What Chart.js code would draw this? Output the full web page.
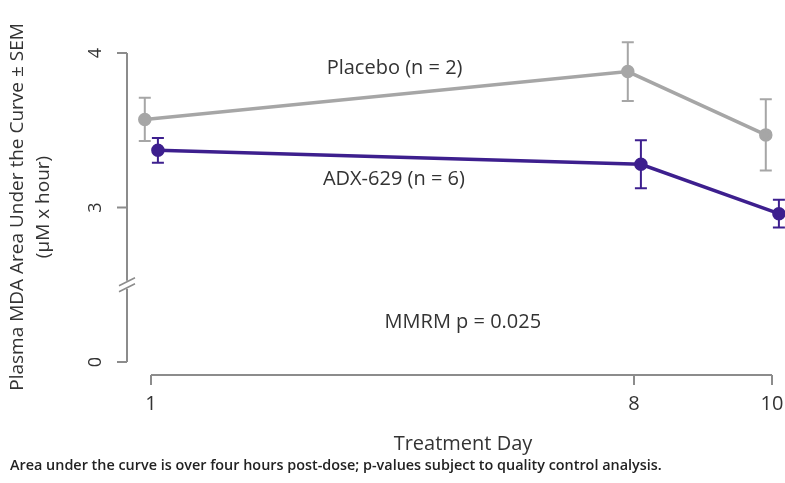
<!DOCTYPE html>
<html>
<head>
<meta charset="utf-8">
<script src="https://cdn.jsdelivr.net/npm/chart.js@4.4.1/dist/chart.umd.min.js"></script>
<style>
    html, body { margin: 0; padding: 0; background: #fff; }
    #wrap { width: 785px; height: 483px; position: relative; }
</style>
</head>
<body>
<div id="wrap"><canvas id="mdaChart"></canvas></div>
<script>
// Treatment days and group means / SEM
const days = [1, 8, 10];
const placeboMean = [3.57, 3.88, 3.47];
const placeboSem = [0.14, 0.19, 0.23];
const adxMean = [3.37, 3.28, 2.96];
const adxSem = [0.08, 0.155, 0.09];

// Axis ticks (the y axis is broken: the lowest tick stands for 0)
const xTicks = [1, 8, 10];
const yTickValues = [2, 3, 4];
const yTickLabels = ['0', '3', '4'];
const yBreakValue = 2.5;

const PLACEBO = '#a6a6a6';
const ADX = '#3d1f8e';
const TEXT = '#333333';
const AXIS = '#8c8c8c';
const FONT = '"Open Sans", "Noto Sans", sans-serif';

function points(means, dodge) {
    return days.map((d, i) => ({ x: d + dodge, y: means[i] }));
}

// Error bars with caps, drawn under the points
const errorBars = {
    id: 'errorBars',
    beforeDatasetsDraw(chart) {
        const ctx = chart.ctx;
        const y = chart.scales.y;
        chart.data.datasets.forEach((ds, di) => {
            const meta = chart.getDatasetMeta(di);
            ctx.save();
            ctx.strokeStyle = ds.borderColor;
            ctx.lineWidth = 2;
            meta.data.forEach((pt, i) => {
                const top = y.getPixelForValue(ds.data[i].y + ds.sem[i]);
                const bot = y.getPixelForValue(ds.data[i].y - ds.sem[i]);
                ctx.beginPath();
                ctx.moveTo(pt.x, top); ctx.lineTo(pt.x, bot);
                ctx.moveTo(pt.x - 6, top); ctx.lineTo(pt.x + 6, top);
                ctx.moveTo(pt.x - 6, bot); ctx.lineTo(pt.x + 6, bot);
                ctx.stroke();
            });
            ctx.restore();
        });
    }
};

// R-style bracket axes, break mark, labels and notes
const axesAndText = {
    id: 'axesAndText',
    afterDraw(chart) {
        const ctx = chart.ctx;
        const xs = chart.scales.x, ys = chart.scales.y;
        const area = chart.chartArea;
        ctx.save();
        ctx.strokeStyle = AXIS;
        ctx.lineWidth = 2;

        // y axis
        const ax = area.left - 24;
        const yTop = ys.getPixelForValue(4), yBot = ys.getPixelForValue(2);
        const yBrk = ys.getPixelForValue(yBreakValue);
        ctx.beginPath();
        ctx.moveTo(ax, yTop); ctx.lineTo(ax, yBrk - 4);
        ctx.moveTo(ax, yBrk + 4); ctx.lineTo(ax, yBot);
        yTickValues.forEach(v => {
            const py = ys.getPixelForValue(v);
            ctx.moveTo(ax, py); ctx.lineTo(ax - 10, py);
        });
        ctx.stroke();
        ctx.lineWidth = 1.5;
        ctx.beginPath();
        ctx.moveTo(ax - 8, yBrk + 1); ctx.lineTo(ax + 8, yBrk - 7);
        ctx.moveTo(ax - 8, yBrk + 7); ctx.lineTo(ax + 8, yBrk - 1);
        ctx.stroke();

        // x axis
        ctx.lineWidth = 2;
        const ay = area.bottom + 13;
        ctx.beginPath();
        ctx.moveTo(xs.getPixelForValue(xTicks[0]), ay);
        ctx.lineTo(xs.getPixelForValue(xTicks[xTicks.length - 1]), ay);
        xTicks.forEach(v => {
            const px = xs.getPixelForValue(v);
            ctx.moveTo(px, ay); ctx.lineTo(px, ay + 10);
        });
        ctx.stroke();

        ctx.fillStyle = TEXT;
        ctx.textAlign = 'center';
        ctx.textBaseline = 'middle';
        ctx.font = '20px ' + FONT;
        xTicks.forEach(v => ctx.fillText(String(v), xs.getPixelForValue(v), ay + 29));

        // rotated y tick labels
        ctx.font = '18px ' + FONT;
        yTickValues.forEach((v, i) => {
            ctx.save();
            ctx.translate(ax - 31, ys.getPixelForValue(v));
            ctx.rotate(-Math.PI / 2);
            ctx.fillText(yTickLabels[i], 0, 0);
            ctx.restore();
        });

        // y axis title
        ctx.save();
        ctx.translate(18, 207);
        ctx.rotate(-Math.PI / 2);
        ctx.font = '19px ' + FONT;
        ctx.fillText('Plasma MDA Area Under the Curve \u00b1 SEM', 0, 0);
        ctx.fillText('(\u00b5M x hour)', 0, 26);
        ctx.restore();

        // x axis title
        ctx.font = '20px ' + FONT;
        ctx.fillText('Treatment Day', 463, 444);

        // series labels and test note
        ctx.fillText('Placebo (n = 2)', xs.getPixelForValue(4.53), ys.getPixelForValue(3.9));
        ctx.fillText('ADX-629 (n = 6)', xs.getPixelForValue(4.52), ys.getPixelForValue(3.18));
        ctx.fillText('MMRM p = 0.025', xs.getPixelForValue(5.52), ys.getPixelForValue(2.26));

        // footnote
        ctx.textAlign = 'left';
        ctx.font = '600 14.4px ' + FONT;
        ctx.fillStyle = '#222';
        ctx.fillText('Area under the curve is over four hours post-dose; p-values subject to quality control analysis.', 10, 466);
        ctx.restore();
    }
};

new Chart(document.getElementById('mdaChart'), {
    type: 'line',
    data: {
        datasets: [
            {
                label: 'Placebo (n = 2)',
                data: points(placeboMean, -0.09),
                sem: placeboSem,
                borderColor: PLACEBO,
                backgroundColor: PLACEBO,
                borderWidth: 3.5,
                pointRadius: 5,
                pointHoverRadius: 5,
                clip: false
            },
            {
                label: 'ADX-629 (n = 6)',
                data: points(adxMean, 0.1),
                sem: adxSem,
                borderColor: ADX,
                backgroundColor: ADX,
                borderWidth: 3.5,
                pointRadius: 5,
                pointHoverRadius: 5,
                clip: false
            }
        ]
    },
    options: {
        responsive: true,
        maintainAspectRatio: false,
        animation: false,
        layout: { padding: { left: 151, right: 13, top: 53, bottom: 121 } },
        plugins: {
            legend: { display: false },
            tooltip: { enabled: false }
        },
        scales: {
            x: { type: 'linear', min: 1, max: 10, display: false },
            y: { type: 'linear', min: 2, max: 4, display: false }
        }
    },
    plugins: [errorBars, axesAndText]
});
</script>
</body>
</html>
